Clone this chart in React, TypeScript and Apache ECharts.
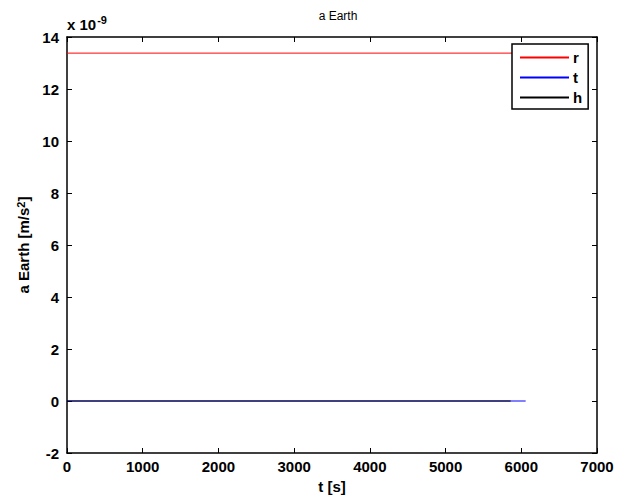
import React, { useEffect, useRef } from "react";
import * as echarts from "echarts";

const timeR = [0, 6058];
const valuesR = [13.38, 13.38];
const timeT = [0, 6058];
const valuesT = [0, 0];
const timeH = [0, 5860];
const valuesH = [0, 0];
const seriesNames = ["r", "t", "h"];
const seriesColors = ["#ff0000", "#0000ff", "#000000"];

const FONT = "Liberation Sans, Arial, sans-serif";

export default function App() {
  const ref = useRef<HTMLDivElement>(null);
  useEffect(() => {
    if (!ref.current) return;
    const chart = echarts.init(ref.current, undefined, { renderer: "svg" });
    const pairs = [
      timeR.map((t, i) => [t, valuesR[i]]),
      timeT.map((t, i) => [t, valuesT[i]]),
      timeH.map((t, i) => [t, valuesH[i]]),
    ];
    const tickLabel = { color: "#000", fontFamily: FONT, fontWeight: "bold" as const, fontSize: 15 };
    chart.setOption({
      animation: false,
      backgroundColor: "#fff",
      title: {
        text: "a Earth",
        left: 333,
        top: 5,
        textAlign: "center",
        textStyle: { fontFamily: FONT, fontSize: 12, fontWeight: "normal", color: "#000" },
      },
      grid: { left: 67, top: 37, right: 20, bottom: 45, show: false },
      legend: {
        data: seriesNames,
        orient: "vertical",
        left: 512,
        top: 44,
        borderColor: "#000",
        borderWidth: 1.5,
        backgroundColor: "#fff",
        padding: [6, 6, 4, 8],
        itemGap: 5,
        itemWidth: 49,
        itemHeight: 2,
        icon: "rect",
        textStyle: { fontFamily: FONT, fontWeight: "bold", fontSize: 15, color: "#000", padding: [0, 0, 0, -1] },
      },
      xAxis: [
        {
          type: "value",
          min: 0,
          max: 7000,
          interval: 1000,
          name: "t [s]",
          nameLocation: "middle",
          nameGap: 26,
          nameTextStyle: { fontFamily: FONT, fontWeight: "bold", fontSize: 15, color: "#000" },
          axisLine: { show: true, onZero: false, lineStyle: { color: "#000", width: 1.5 } },
          axisTick: { show: true, inside: true, length: 5, lineStyle: { color: "#000" } },
          axisLabel: { ...tickLabel, margin: 6, formatter: (v: number) => String(v) },
          splitLine: { show: false },
        },
        {
          type: "value",
          position: "top",
          min: 0,
          max: 7000,
          interval: 1000,
          axisLine: { show: true, onZero: false, lineStyle: { color: "#000", width: 1.5 } },
          axisTick: { show: true, inside: true, length: 5, lineStyle: { color: "#000" } },
          axisLabel: { show: false },
          splitLine: { show: false },
        },
      ],
      yAxis: [
        {
          type: "value",
          min: -2,
          max: 14,
          interval: 2,
          name: "{a|a Earth [m/s}{s|2}{a|]}",
          nameLocation: "middle",
          nameGap: 21,
          nameRotate: 90,
          nameTextStyle: {
            rich: {
              a: { fontFamily: FONT, fontWeight: "bold", fontSize: 15, color: "#000" },
              s: { fontFamily: FONT, fontWeight: "bold", fontSize: 11, color: "#000", verticalAlign: "top", padding: [0, 0, 6, 0] },
            },
          },
          axisLine: { show: true, onZero: false, lineStyle: { color: "#000", width: 1.5 } },
          axisTick: { show: true, inside: true, length: 5, lineStyle: { color: "#000" } },
          axisLabel: { ...tickLabel, margin: 8 },
          splitLine: { show: false },
        },
        {
          type: "value",
          position: "right",
          min: -2,
          max: 14,
          interval: 2,
          axisLine: { show: true, onZero: false, lineStyle: { color: "#000", width: 1.5 } },
          axisTick: { show: true, inside: true, length: 5, lineStyle: { color: "#000" } },
          axisLabel: { show: false },
          splitLine: { show: false },
        },
      ],
      graphic: [
        {
          type: "text",
          left: 67,
          top: 14,
          style: {
            text: "{a|x 10}{s|-9}",
            rich: {
              a: { fontFamily: FONT, fontWeight: "bold", fontSize: 15, fill: "#000" },
              s: { fontFamily: FONT, fontWeight: "bold", fontSize: 11, fill: "#000", verticalAlign: "top", padding: [0, 0, 9, 1] },
            },
          },
        },
      ],
      series: seriesNames.map((name, i) => ({
        name,
        type: "line",
        data: pairs[i],
        showSymbol: false,
        symbol: "none",
        lineStyle: { color: seriesColors[i], width: 1 },
        itemStyle: { color: seriesColors[i] },
      })),
    });
    return () => chart.dispose();
  }, []);
  return <div ref={ref} style={{ position: "fixed", left: 0, top: 0, width: 617, height: 499 }} />;
}
